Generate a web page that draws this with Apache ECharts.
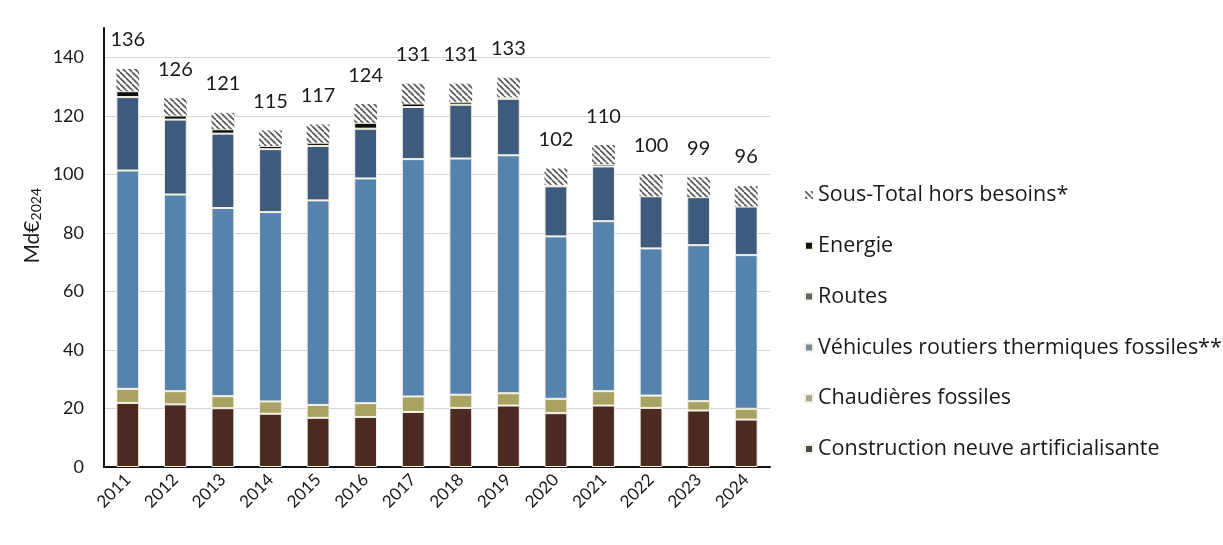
<!DOCTYPE html>
<html>
<head>
<meta charset="utf-8">
<script src="https://cdn.jsdelivr.net/npm/echarts@6/dist/echarts.min.js"></script>
<style>
  html, body { margin: 0; padding: 0; background: #ffffff; }
  #chart { width: 1223px; height: 545px; }
</style>
</head>
<body>
<div id="chart"></div>
<script>
// Years on the category axis
const years = ['2011','2012','2013','2014','2015','2016','2017','2018','2019','2020','2021','2022','2023','2024'];

// Stacked components, Md€2024 (bottom to top)
const construction = [21.9, 21.4, 20.1, 18.2, 16.8, 17.1, 18.8, 20.2, 21.0, 18.4, 21.0, 20.2, 19.3, 16.2];
const chaudieres   = [4.8, 4.5, 4.1, 4.2, 4.4, 4.7, 5.3, 4.5, 4.2, 4.9, 4.9, 4.2, 3.2, 3.7];
const vehicules    = [74.6, 67.2, 64.3, 64.7, 69.9, 76.8, 81.1, 80.7, 81.3, 55.5, 58.1, 50.3, 53.3, 52.5];
const routes       = [25.1, 25.6, 25.4, 21.5, 18.6, 17.0, 17.8, 18.4, 19.3, 17.1, 18.7, 17.8, 16.4, 16.6];
const energie      = [2.0, 1.4, 1.5, 1.1, 1.1, 2.0, 1.2, 1.0, 0.6, 0.5, 0.8, 0.0, 0.0, 0.0];
const horsBesoins  = [7.6, 5.9, 5.6, 5.3, 6.2, 6.4, 6.8, 6.2, 6.6, 5.6, 6.5, 7.5, 6.8, 7.0];

// Totals printed above each bar
const totals = [136, 126, 121, 115, 117, 124, 131, 131, 133, 102, 110, 100, 99, 96];

// Y axis ticks
const yTicks = [0, 20, 40, 60, 80, 100, 120, 140];

const names = {
  construction: 'Construction neuve artificialisante',
  chaudieres: 'Chaudières fossiles',
  vehicules: 'Véhicules routiers thermiques fossiles**',
  routes: 'Routes',
  energie: 'Energie',
  hors: 'Sous-Total hors besoins*'
};

// Diagonal hatch pattern for the "hors besoins" block
function hatch() {
  const s = 6;
  const c = document.createElement('canvas');
  c.width = s; c.height = s;
  const g = c.getContext('2d');
  g.fillStyle = '#ffffff';
  g.fillRect(0, 0, s, s);
  g.strokeStyle = '#555555';
  g.lineWidth = 1.6;
  for (const k of [-s, 0, s]) {
    g.beginPath();
    g.moveTo(k, 0);
    g.lineTo(k + s, s);
    g.stroke();
  }
  return c;
}

const FONT = 'Lato';
const LEGEND_FONT = 'Open Sans';
const sep = { borderColor: '#f4f1e4', borderWidth: 1 };

function bar(name, data, color, extra) {
  return Object.assign({
    name: name,
    type: 'bar',
    stack: 'total',
    barWidth: '48%',
    data: data,
    itemStyle: Object.assign({ color: color }, sep)
  }, extra || {});
}

const chart = echarts.init(document.getElementById('chart'), null, { renderer: 'canvas' });

chart.setOption({
  animation: false,
  backgroundColor: '#ffffff',
  textStyle: { fontFamily: FONT },
  grid: { left: 104, right: 453, top: 28, bottom: 78, containLabel: false },
  legend: {
    orient: 'vertical',
    left: 799,
    top: 176,
    itemWidth: 8,
    itemHeight: 8,
    itemGap: 22.8,
    icon: 'rect',
    selectedMode: false,
    textStyle: { fontFamily: LEGEND_FONT, fontSize: 21.5, color: '#1a1a1a', lineHeight: 28 },
    data: [
      { name: names.hors },
      { name: names.energie, itemStyle: { color: '#111111' } },
      { name: names.routes, itemStyle: { color: '#5f6366' } },
      { name: names.vehicules, itemStyle: { color: '#7d8a98' } },
      { name: names.chaudieres, itemStyle: { color: '#a8a78e' } },
      { name: names.construction, itemStyle: { color: '#4a4848' } }
    ]
  },
  graphic: [{
    type: 'text',
    left: 22,
    top: 188,
    rotation: Math.PI / 2,
    style: {
      text: 'Md€{s|2024}',
      fontFamily: FONT,
      fontSize: 21,
      fill: '#1a1a1a',
      rich: { s: { fontSize: 14, fontFamily: FONT, fill: '#1a1a1a', padding: [8, 0, 0, 0] } }
    }
  }],
  xAxis: {
    type: 'category',
    data: years,
    axisLine: { lineStyle: { color: '#111111', width: 2 } },
    axisTick: { show: false },
    axisLabel: { rotate: 45, fontFamily: FONT, fontSize: 17, color: '#1a1a1a', margin: 10 }
  },
  yAxis: {
    type: 'value',
    min: 0,
    max: 150,
    interval: 20,
    axisLine: { show: true, lineStyle: { color: '#111111', width: 2 } },
    axisTick: { show: false },
    axisLabel: {
      fontFamily: FONT, fontSize: 18, color: '#1a1a1a', margin: 20, showMaxLabel: false,
      formatter: v => (yTicks.indexOf(v) >= 0 ? String(v) : '')
    },
    splitLine: {
      lineStyle: {
        color: ['#d6d6d6', '#d6d6d6', '#d6d6d6', '#d6d6d6', '#d6d6d6', '#d6d6d6', '#d6d6d6', '#d6d6d6', 'rgba(0,0,0,0)'],
        width: 1
      }
    }
  },
  series: [
    bar(names.construction, construction, '#4b2a22'),
    bar(names.chaudieres, chaudieres, '#a8a263'),
    bar(names.vehicules, vehicules, '#5683ad'),
    bar(names.routes, routes, '#3e5a7c'),
    bar(names.energie, energie, '#0d0d0d'),
    bar(names.hors, horsBesoins, '#888888', {
      itemStyle: { color: { image: hatch(), repeat: 'repeat' }, borderWidth: 0 },
      label: {
        show: true,
        position: 'top',
        distance: 19,
        fontFamily: FONT,
        fontSize: 20,
        color: '#1a1a1a',
        formatter: p => String(totals[p.dataIndex])
      }
    })
  ]
});
</script>
</body>
</html>
